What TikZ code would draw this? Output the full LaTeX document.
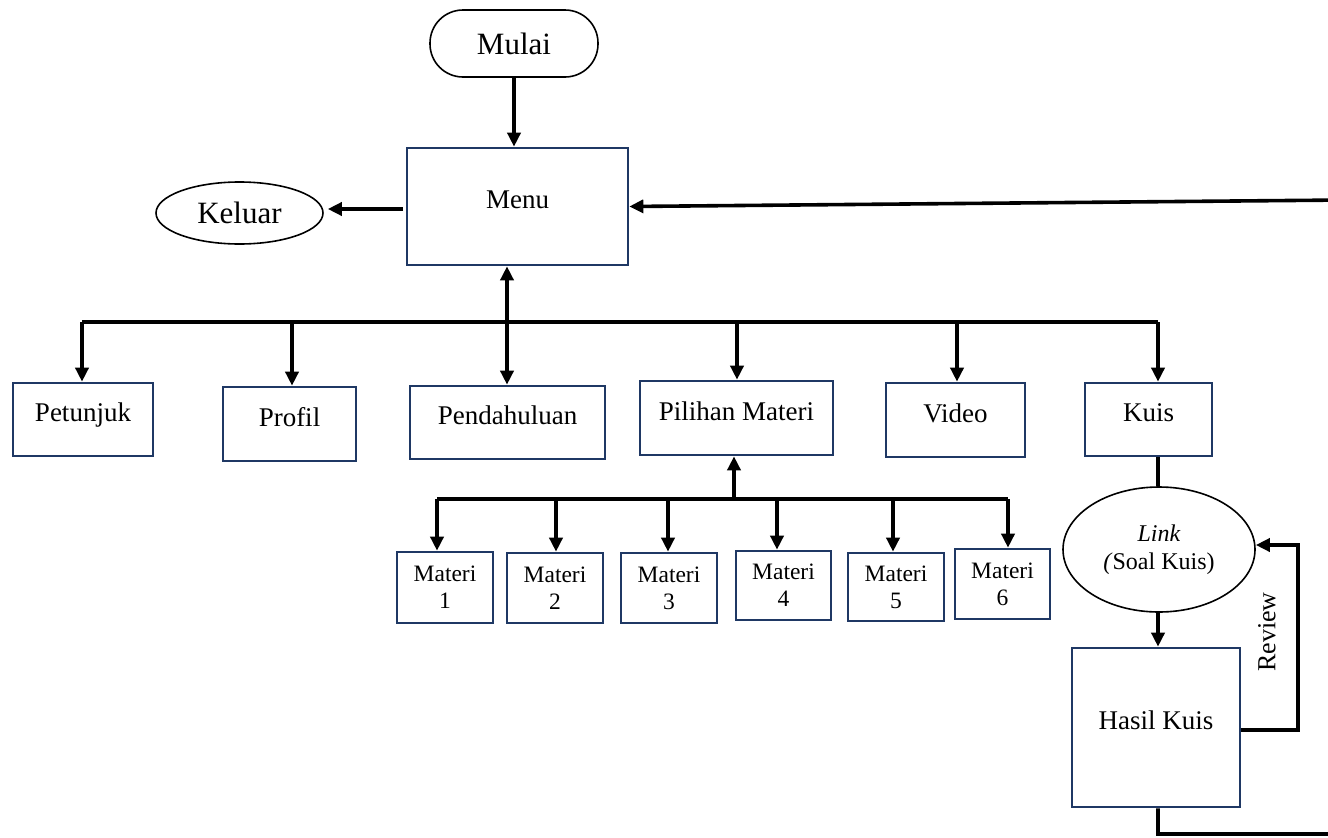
\documentclass[tikz,border=0pt]{standalone}
\usepackage{fontspec}
\setmainfont{Liberation Serif}
\usetikzlibrary{arrows.meta,shapes.geometric}
\definecolor{navy}{HTML}{1F3864}
\begin{document}
\begin{tikzpicture}[x=1pt,y=-1pt,
  box/.style={draw=navy,line width=2.6pt,rectangle,inner sep=0pt,font=\fontsize{27}{30}\selectfont,text height=10pt,text depth=6pt},
  mbox/.style={draw=navy,line width=2.6pt,rectangle,inner sep=0pt,align=center,font=\fontsize{23.5}{27}\selectfont},
  oval/.style={draw=black,line width=1.6pt,ellipse,inner sep=0pt},
  conn/.style={line width=3.6pt},
  arr/.style={line width=3.6pt,-{Triangle[length=14pt,width=13pt]}},
  darr/.style={line width=3.6pt,{Triangle[length=14pt,width=13pt]}-{Triangle[length=14pt,width=13pt]}}]
\useasboundingbox (0,0) rectangle (1328,838);
\clip (0,0) rectangle (1328,838);
\fill[white] (0,0) rectangle (1328,838);

% nodes
\node[draw=black,line width=1.6pt,rounded corners=33pt,minimum width=168pt,minimum height=67pt,inner sep=0pt,font=\fontsize{31}{34}\selectfont] (mulai) at (514,43.5) {Mulai};
\node[box,minimum width=221pt,minimum height=117pt] (menu) at (517.5,206.5) {Menu};
\node[oval,minimum width=167pt,minimum height=62pt,font=\fontsize{31}{34}\selectfont] (keluar) at (239.5,213) {Keluar};

\node[box,minimum width=140pt,minimum height=73pt] (pet) at (83,419.5) {Petunjuk};
\node[box,minimum width=133pt,minimum height=74pt] (prof) at (289.5,424) {Profil};
\node[box,minimum width=195pt,minimum height=73pt] (pend) at (507.5,422.5) {Pendahuluan};
\node[box,minimum width=193pt,minimum height=74pt] (pil) at (736.5,418) {Pilihan Materi};
\node[box,minimum width=139pt,minimum height=74pt] (vid) at (955.5,420) {Video};
\node[box,minimum width=127pt,minimum height=73pt] (kuis) at (1148.5,419.5) {Kuis};

\node[mbox,minimum width=96pt,minimum height=71pt] (m1) at (445,587.5) {Materi\\1};
\node[mbox,minimum width=96pt,minimum height=70pt] (m2) at (555,588) {Materi\\2};
\node[mbox,minimum width=96pt,minimum height=70pt] (m3) at (669,588) {Materi\\3};
\node[mbox,minimum width=95pt,minimum height=69pt] (m4) at (783.5,585.5) {Materi\\4};
\node[mbox,minimum width=96pt,minimum height=68pt] (m5) at (896,587) {Materi\\5};
\node[mbox,minimum width=95pt,minimum height=70pt] (m6) at (1002.5,584) {Materi\\6};

\node[oval,minimum width=192pt,minimum height=125pt,align=center,font=\fontsize{24}{28}\selectfont] (link) at (1159,549.5) {\textit{Link}\\\textit{(}Soal Kuis)};
\node[box,minimum width=168pt,minimum height=159pt] (hasil) at (1156,727.5) {Hasil Kuis};

% coordinates
\coordinate (k1) at (403,209);
\coordinate (b1) at (82,322);
\coordinate (b2) at (292,322);
\coordinate (b3) at (507,322);
\coordinate (b4) at (737,322);
\coordinate (b5) at (957,322);
\coordinate (b6) at (1158,322);
\coordinate (s0) at (734,499);
\coordinate (s1) at (437,499);
\coordinate (s2) at (556,499);
\coordinate (s3) at (668,499);
\coordinate (s4) at (777,499);
\coordinate (s5) at (893,499);
\coordinate (s6) at (1008,499);
\coordinate (r1) at (1298,730);
\coordinate (r2) at (1298,545);
\coordinate (q1) at (1158,834);
\coordinate (q2) at (1345,834);
\coordinate (q3) at (1345,200);

% connectors
\draw[arr] (mulai.south) -- (mulai.south |- menu.north);
\draw[arr,shorten >=4pt] (k1) -- (k1 -| keluar.east);
\draw[conn] (b1) -- (b6);
\draw[arr] (b1) -- (b1 |- pet.north);
\draw[arr] (b2) -- (b2 |- prof.north);
\draw[darr] (b3 |- menu.south) -- (b3 |- pend.north);
\draw[arr] (b4) -- (b4 |- pil.north);
\draw[arr] (b5) -- (b5 |- vid.north);
\draw[arr] (b6) -- (b6 |- kuis.north);

\draw[conn] (s1) -- (s6);
\draw[arr] (s0) -- (s0 |- pil.south);
\draw[arr] (s1) -- (s1 |- m1.north);
\draw[arr] (s2) -- (s2 |- m2.north);
\draw[arr] (s3) -- (s3 |- m3.north);
\draw[arr] (s4) -- (s4 |- m4.north);
\draw[arr] (s5) -- (s5 |- m5.north);
\draw[arr] (s6) -- (s6 |- m6.north);

\draw[conn] (kuis.south -| b6) -- (b6 |- link.north);
\draw[arr] (link.south -| b6) -- (b6 |- hasil.north);
\draw[arr] (hasil.east |- r1) -- (r1) -- (r2) -- (r2 -| link.east);
\node[rotate=90,font=\fontsize{26}{30}\selectfont] (rev) at (1267,632) {Review};
\draw[arr,line join=miter] (hasil.south -| q1) -- (q1) -- (q2) -- (q3) -- (menu.east);
\end{tikzpicture}
\end{document}
